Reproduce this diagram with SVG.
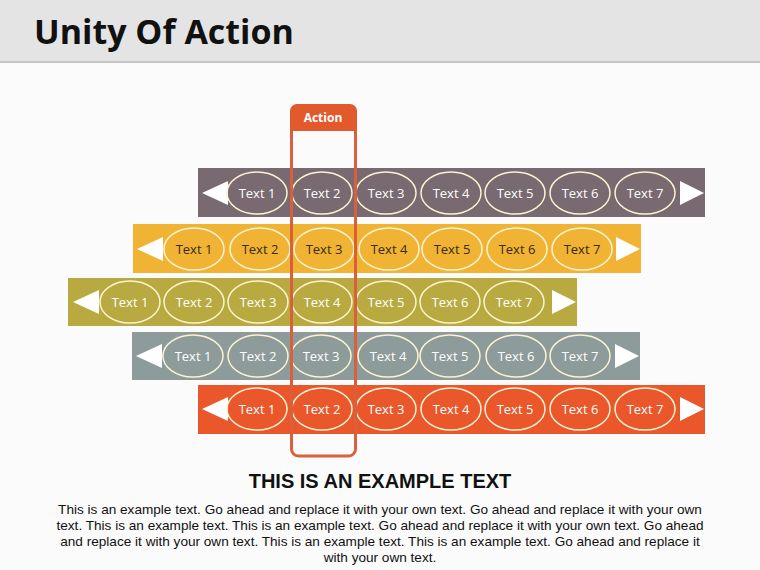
<svg xmlns="http://www.w3.org/2000/svg" width="760" height="570" viewBox="0 0 760 570">
<style>
text{font-family:"Open Sans","DejaVu Sans",sans-serif}
.e{fill:none;stroke:#fbf3d0;stroke-width:1.5}
.t{font-size:13px;fill:#fff;text-anchor:middle}
.d{fill:#3a2a10}
.a{fill:#fff}
.b{font-family:"Liberation Sans",Arial,sans-serif;font-size:13.6px;text-anchor:middle;fill:#111}
</style>
<rect width="760" height="570" fill="#fbfbfb"/>
<rect width="760" height="62" fill="#e4e4e4"/>
<rect y="61" width="760" height="2" fill="#c4c4c4"/>
<text x="34" y="44" font-size="34" font-weight="bold" fill="#111" style="font-family:'Open Sans',sans-serif">Unity Of Action</text>
<g id="row1"><rect x="198" y="168" width="507" height="49" fill="#786a70"/>
<polygon class="a" points="202,193 228,181 228,205"/><polygon class="a" points="704,193 680,181 680,205"/>
<ellipse class="e" cx="257" cy="193" rx="30" ry="21"/><text class="t" x="257" y="198">Text 1</text>
<ellipse class="e" cx="322" cy="193" rx="30" ry="21"/><text class="t" x="322" y="198">Text 2</text>
<ellipse class="e" cx="386" cy="193" rx="30" ry="21"/><text class="t" x="386" y="198">Text 3</text>
<ellipse class="e" cx="451" cy="193" rx="30" ry="21"/><text class="t" x="451" y="198">Text 4</text>
<ellipse class="e" cx="515" cy="193" rx="30" ry="21"/><text class="t" x="515" y="198">Text 5</text>
<ellipse class="e" cx="580" cy="193" rx="30" ry="21"/><text class="t" x="580" y="198">Text 6</text>
<ellipse class="e" cx="645" cy="193" rx="30" ry="21"/><text class="t" x="645" y="198">Text 7</text></g>
<g id="row2"><rect x="133" y="224" width="508" height="49" fill="#f1b334"/>
<polygon class="a" points="137,249 163,237 163,261"/><polygon class="a" points="640,249 616,237 616,261"/>
<ellipse class="e" cx="194" cy="249" rx="30" ry="21"/><text class="t d" x="194" y="254">Text 1</text>
<ellipse class="e" cx="260" cy="249" rx="30" ry="21"/><text class="t d" x="260" y="254">Text 2</text>
<ellipse class="e" cx="324" cy="249" rx="30" ry="21"/><text class="t d" x="324" y="254">Text 3</text>
<ellipse class="e" cx="389" cy="249" rx="30" ry="21"/><text class="t d" x="389" y="254">Text 4</text>
<ellipse class="e" cx="452" cy="249" rx="30" ry="21"/><text class="t d" x="452" y="254">Text 5</text>
<ellipse class="e" cx="517" cy="249" rx="30" ry="21"/><text class="t d" x="517" y="254">Text 6</text>
<ellipse class="e" cx="582" cy="249" rx="30" ry="21"/><text class="t d" x="582" y="254">Text 7</text></g>
<g id="row3"><rect x="68" y="278" width="509" height="48" fill="#b8aa40"/>
<polygon class="a" points="73,302 99,290 99,314"/><polygon class="a" points="576,302 552,290 552,314"/>
<ellipse class="e" cx="130" cy="302" rx="30" ry="21"/><text class="t" x="130" y="307">Text 1</text>
<ellipse class="e" cx="194" cy="302" rx="30" ry="21"/><text class="t" x="194" y="307">Text 2</text>
<ellipse class="e" cx="258" cy="302" rx="30" ry="21"/><text class="t" x="258" y="307">Text 3</text>
<ellipse class="e" cx="322" cy="302" rx="30" ry="21"/><text class="t" x="322" y="307">Text 4</text>
<ellipse class="e" cx="386" cy="302" rx="30" ry="21"/><text class="t" x="386" y="307">Text 5</text>
<ellipse class="e" cx="450" cy="302" rx="30" ry="21"/><text class="t" x="450" y="307">Text 6</text>
<ellipse class="e" cx="514" cy="302" rx="30" ry="21"/><text class="t" x="514" y="307">Text 7</text></g>
<g id="row4"><rect x="132" y="332" width="508" height="48" fill="#8d9b9b"/>
<polygon class="a" points="136,356 162,344 162,368"/><polygon class="a" points="639,356 615,344 615,368"/>
<ellipse class="e" cx="193" cy="356" rx="30" ry="21"/><text class="t" x="193" y="361">Text 1</text>
<ellipse class="e" cx="258" cy="356" rx="30" ry="21"/><text class="t" x="258" y="361">Text 2</text>
<ellipse class="e" cx="321" cy="356" rx="30" ry="21"/><text class="t" x="321" y="361">Text 3</text>
<ellipse class="e" cx="388" cy="356" rx="30" ry="21"/><text class="t" x="388" y="361">Text 4</text>
<ellipse class="e" cx="450" cy="356" rx="30" ry="21"/><text class="t" x="450" y="361">Text 5</text>
<ellipse class="e" cx="516" cy="356" rx="30" ry="21"/><text class="t" x="516" y="361">Text 6</text>
<ellipse class="e" cx="580" cy="356" rx="30" ry="21"/><text class="t" x="580" y="361">Text 7</text></g>
<g id="row5"><rect x="198" y="385" width="507" height="49" fill="#e9572b"/>
<polygon class="a" points="202,409 228,397 228,421"/><polygon class="a" points="704,409 680,397 680,421"/>
<ellipse class="e" cx="257" cy="409" rx="30" ry="21"/><text class="t" x="257" y="414">Text 1</text>
<ellipse class="e" cx="322" cy="409" rx="30" ry="21"/><text class="t" x="322" y="414">Text 2</text>
<ellipse class="e" cx="386" cy="409" rx="30" ry="21"/><text class="t" x="386" y="414">Text 3</text>
<ellipse class="e" cx="451" cy="409" rx="30" ry="21"/><text class="t" x="451" y="414">Text 4</text>
<ellipse class="e" cx="515" cy="409" rx="30" ry="21"/><text class="t" x="515" y="414">Text 5</text>
<ellipse class="e" cx="580" cy="409" rx="30" ry="21"/><text class="t" x="580" y="414">Text 6</text>
<ellipse class="e" cx="645" cy="409" rx="30" ry="21"/><text class="t" x="645" y="414">Text 7</text></g>
<g id="action">
<rect x="291.5" y="106" width="64" height="350" rx="7" fill="none" stroke="#d9603a" stroke-width="3"/>
<path d="M290,131 V111 a7,7 0 0 1 7,-7 H350 a7,7 0 0 1 7,7 V131 Z" fill="#e2592c"/>
<text x="323" y="122" font-size="12" font-weight="bold" fill="#fff" text-anchor="middle">Action</text>
</g>
<text x="380" y="488" font-size="20" font-weight="bold" text-anchor="middle" fill="#111" style="font-family:'Liberation Sans',Arial,sans-serif">THIS IS AN EXAMPLE TEXT</text>
<text class="b" x="380" y="514">This is an example text. Go ahead and replace it with your own text. Go ahead and replace it with your own</text>
<text class="b" x="380" y="530">text. This is an example text. This is an example text. Go ahead and replace it with your own text. Go ahead</text>
<text class="b" x="380" y="546">and replace it with your own text. This is an example text. This is an example text. Go ahead and replace it</text>
<text class="b" x="380" y="562">with your own text.</text>
</svg>
